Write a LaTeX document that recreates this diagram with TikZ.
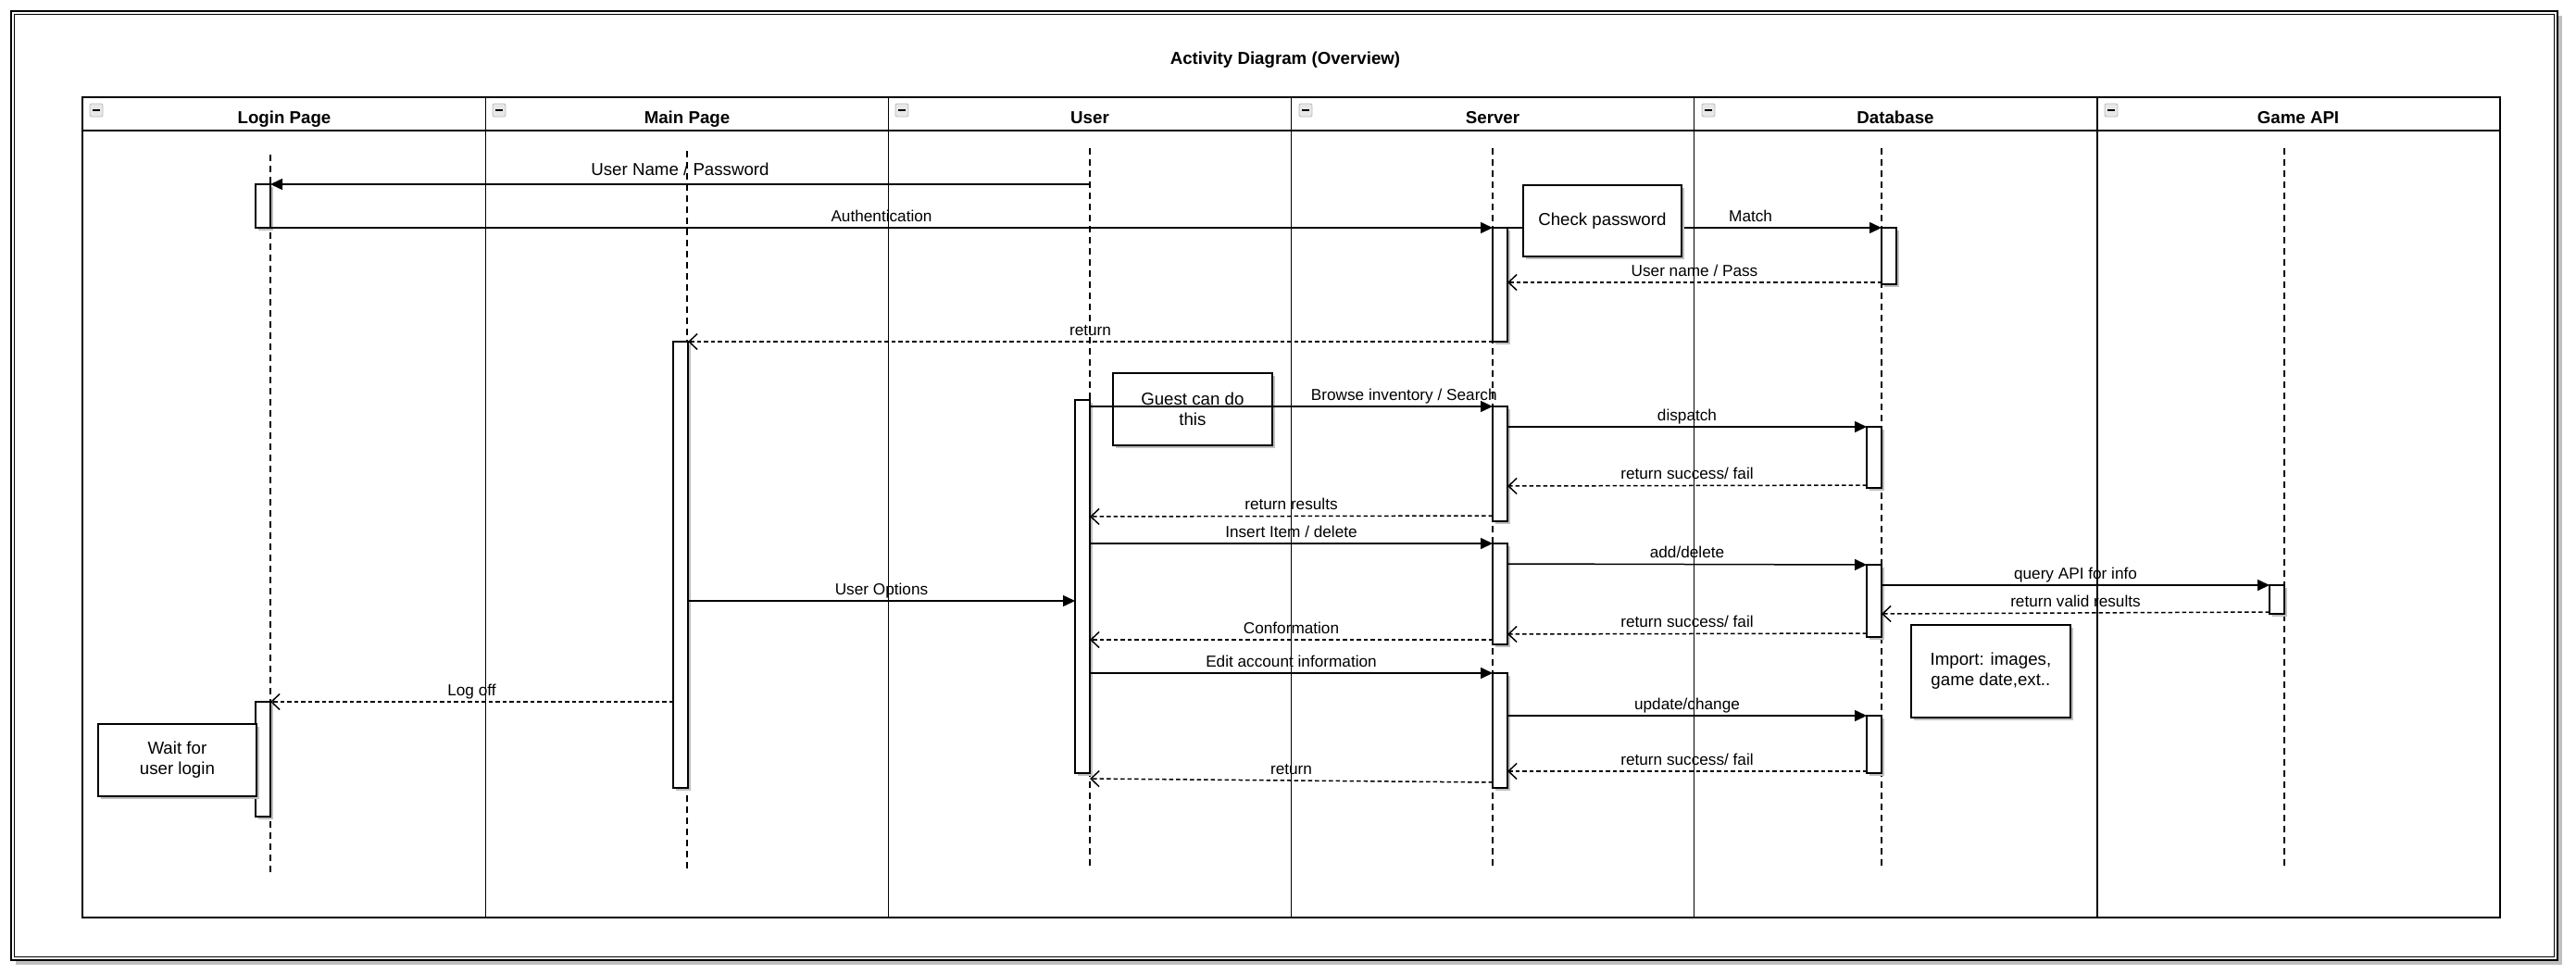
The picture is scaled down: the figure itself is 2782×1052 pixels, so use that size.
\documentclass[tikz,border=0pt]{standalone}
\usepackage{fontspec}
\setmainfont{Liberation Sans}
\usetikzlibrary{arrows.meta,shadows}

\begin{document}
\begin{tikzpicture}[x=1pt,y=-1pt,
	lifeline/.style={line width=1.3pt,dash pattern=on 7pt off 5pt},
	act/.style={draw,fill=white,line width=1.4pt,anchor=north west,minimum width=16pt,inner sep=0pt,outer sep=0pt,
		drop shadow={shadow xshift=3pt,shadow yshift=-3pt,fill=black!25,opacity=1}},
	notebox/.style={draw,fill=white,line width=1.8pt,anchor=north west,align=center,inner sep=0pt,
		font=\fontsize{18.7}{22}\selectfont,
		drop shadow={shadow xshift=3pt,shadow yshift=-3pt,fill=black!25,opacity=1}},
	msg/.style={line width=1.5pt,-{Triangle[length=13pt,width=12pt]}},
	ret/.style={line width=1.5pt,dash pattern=on 4.5pt off 3pt,-{Straight Barb[length=9pt,width=17pt,line width=1.5pt]}},
	lbl/.style={above=1.5pt,inner sep=1pt,text height=12pt,text depth=3.5pt,font=\fontsize{17.2}{20}\selectfont},
	hdr/.style={inner sep=0pt,text height=13.4pt,text depth=0pt,font=\bfseries\fontsize{18.7}{22}\selectfont},
	mini/.style={draw=gray!55,fill=gray!18,rounded corners=2pt,line width=0.8pt}]

	\useasboundingbox (0,0) rectangle (2782,1052);
	\fill[white] (0,0) rectangle (2782,1052);

	\fill[black!25] (17,17) rectangle (2767,1042);
	\draw[line width=1.4pt,fill=white] (12,12) rectangle (2762,1037);
	\draw[line width=1.4pt] (15.5,15.5) rectangle (2758.5,1033.5);

	\node[hdr] (title) at (1388,63) {Activity Diagram (Overview)};

	\draw[line width=1.8pt] (89,105) rectangle (2700,991);
	\draw[line width=1.8pt] (89,141) -- (2700,141);
	\draw[line width=1.7pt] (524.5,105) -- (524.5,991);
	\draw[line width=1.7pt] (959.5,105) -- (959.5,991);
	\draw[line width=1.7pt] (1394.5,105) -- (1394.5,991);
	\draw[line width=1.7pt] (1829.5,105) -- (1829.5,991);
	\draw[line width=1.7pt] (2265,105) -- (2265,991);

	\node[hdr] (hdLogin) at (307,127) {Login Page};
	\node[hdr] (hdMain) at (742,127) {Main Page};
	\node[hdr] (hdUser) at (1177,127) {User};
	\node[hdr] (hdServer) at (1612,127) {Server};
	\node[hdr] (hdDb) at (2047,127) {Database};
	\node[hdr] (hdApi) at (2482,127) {Game API};

	\draw[mini] (97,112) rectangle (111,126); \draw[line width=1.5pt] (100,119) -- (108,119);
	\draw[mini] (532,112) rectangle (546,126); \draw[line width=1.5pt] (535,119) -- (543,119);
	\draw[mini] (967,112) rectangle (981,126); \draw[line width=1.5pt] (970,119) -- (978,119);
	\draw[mini] (1403,112) rectangle (1417,126); \draw[line width=1.5pt] (1406,119) -- (1414,119);
	\draw[mini] (1838,112) rectangle (1852,126); \draw[line width=1.5pt] (1841,119) -- (1849,119);
	\draw[mini] (2273,112) rectangle (2287,126); \draw[line width=1.5pt] (2276,119) -- (2284,119);

	\coordinate (lgTop) at (292,167); \coordinate (lgBot) at (292,945);
	\coordinate (mnTop) at (742,163); \coordinate (mnBot) at (742,940);
	\coordinate (usTop) at (1177,160); \coordinate (usBot) at (1177,936);
	\coordinate (svTop) at (1612,160); \coordinate (svBot) at (1612,936);
	\coordinate (dbTop) at (2032,160); \coordinate (dbBot) at (2032,936);
	\coordinate (apTop) at (2467,160); \coordinate (apBot) at (2467,936);
	\draw[lifeline] (lgTop) -- (lgBot);
	\draw[lifeline] (mnTop) -- (mnBot);
	\draw[lifeline] (usTop) -- (usBot);
	\draw[lifeline] (svTop) -- (svBot);
	\draw[lifeline] (dbTop) -- (dbBot);
	\draw[lifeline] (apTop) -- (apBot);

	\node[act,minimum height=47pt] (logA1) at (276,199) {};
	\node[act,minimum height=124pt] (logA2) at (276,758) {};
	\node[act,minimum height=482pt] (mainA) at (727,369) {};
	\node[act,minimum height=403pt] (usrA) at (1161,432) {};
	\node[act,minimum height=123pt] (srvA1) at (1612,246) {};
	\node[act,minimum height=124pt] (srvA2) at (1612,439) {};
	\node[act,minimum height=109pt] (srvA3) at (1612,587) {};
	\node[act,minimum height=124pt] (srvA4) at (1612,727) {};
	\node[act,minimum height=61pt] (dbA1) at (2032,246) {};
	\node[act,minimum height=66pt] (dbA2) at (2016,461) {};
	\node[act,minimum height=78pt] (dbA3) at (2016,610) {};
	\node[act,minimum height=62pt] (dbA4) at (2016,773) {};
	\node[act,minimum height=31pt] (apiA) at (2451,632) {};

	\node[notebox,minimum width=172pt,minimum height=78pt] (guestNote) at (1201,402) {Guest can do\\this};

	\draw[msg] (usTop |- 0,199) -- node[lbl,above=2.5pt,font=\fontsize{18.7}{22}\selectfont]{User Name / Password} (logA1.north east);
	\draw[msg] (logA1.south east) -- node[lbl]{Authentication} (srvA1.north west);
	\draw[msg] (srvA1.north east) -- node[lbl,pos=0.65]{Match} (dbA1.north west);
	\draw[ret] (dbA1.west |- 0,305) -- node[lbl]{User name / Pass} (srvA1.east |- 0,305);
	\draw[ret] (srvA1.south west) -- node[lbl]{return} (mainA.north east);
	\draw[msg] (usrA.east |- 0,439) -- node[lbl,pos=0.78]{Browse inventory / Search} (srvA2.north west);
	\draw[msg] (srvA2.east |- 0,461) -- node[lbl]{dispatch} (dbA2.north west);
	\draw[ret] (dbA2.west |- 0,524) -- node[lbl]{return success/ fail} (srvA2.east |- 0,525);
	\draw[ret] (srvA2.west |- 0,557) -- node[lbl]{return results} (usrA.east |- 0,558);
	\draw[msg] (usrA.east |- 0,587) -- node[lbl]{Insert Item / delete} (srvA3.north west);
	\draw[msg] (srvA3.east |- 0,609) -- node[lbl]{add/delete} (dbA3.north west);
	\draw[msg] (dbA3.east |- 0,632) -- node[lbl]{query API for info} (apiA.north west);
	\draw[ret] (apiA.west |- 0,661) -- node[lbl]{return valid results} (dbA3.east |- 0,663);
	\draw[ret] (dbA3.west |- 0,684) -- node[lbl]{return success/ fail} (srvA3.east |- 0,685);
	\draw[ret] (srvA3.west |- 0,691) -- node[lbl]{Conformation} (usrA.east |- 0,691);
	\draw[msg] (mainA.east |- 0,649) -- node[lbl]{User Options} (usrA.west |- 0,649);
	\draw[msg] (usrA.east |- 0,727) -- node[lbl]{Edit account information} (srvA4.north west);
	\draw[msg] (srvA4.east |- 0,773) -- node[lbl]{update/change} (dbA4.north west);
	\draw[ret] (dbA4.west |- 0,833) -- node[lbl]{return success/ fail} (srvA4.east |- 0,833);
	\draw[ret] (srvA4.west |- 0,845) -- node[lbl]{return} (usrA.east |- 0,841);
	\draw[ret] (mainA.west |- 0,758) -- node[lbl]{Log off} (logA2.north east);

	\node[notebox,minimum width=171pt,minimum height=77pt] (chkNote) at (1644,199) {Check password};
	\node[notebox,minimum width=171pt,minimum height=78pt] (waitNote) at (105,781) {Wait for\\user login};
	\node[notebox,minimum width=172pt,minimum height=100pt] (importNote) at (2063,674) {Import: images,\\game date,ext..};
\end{tikzpicture}
\end{document}
